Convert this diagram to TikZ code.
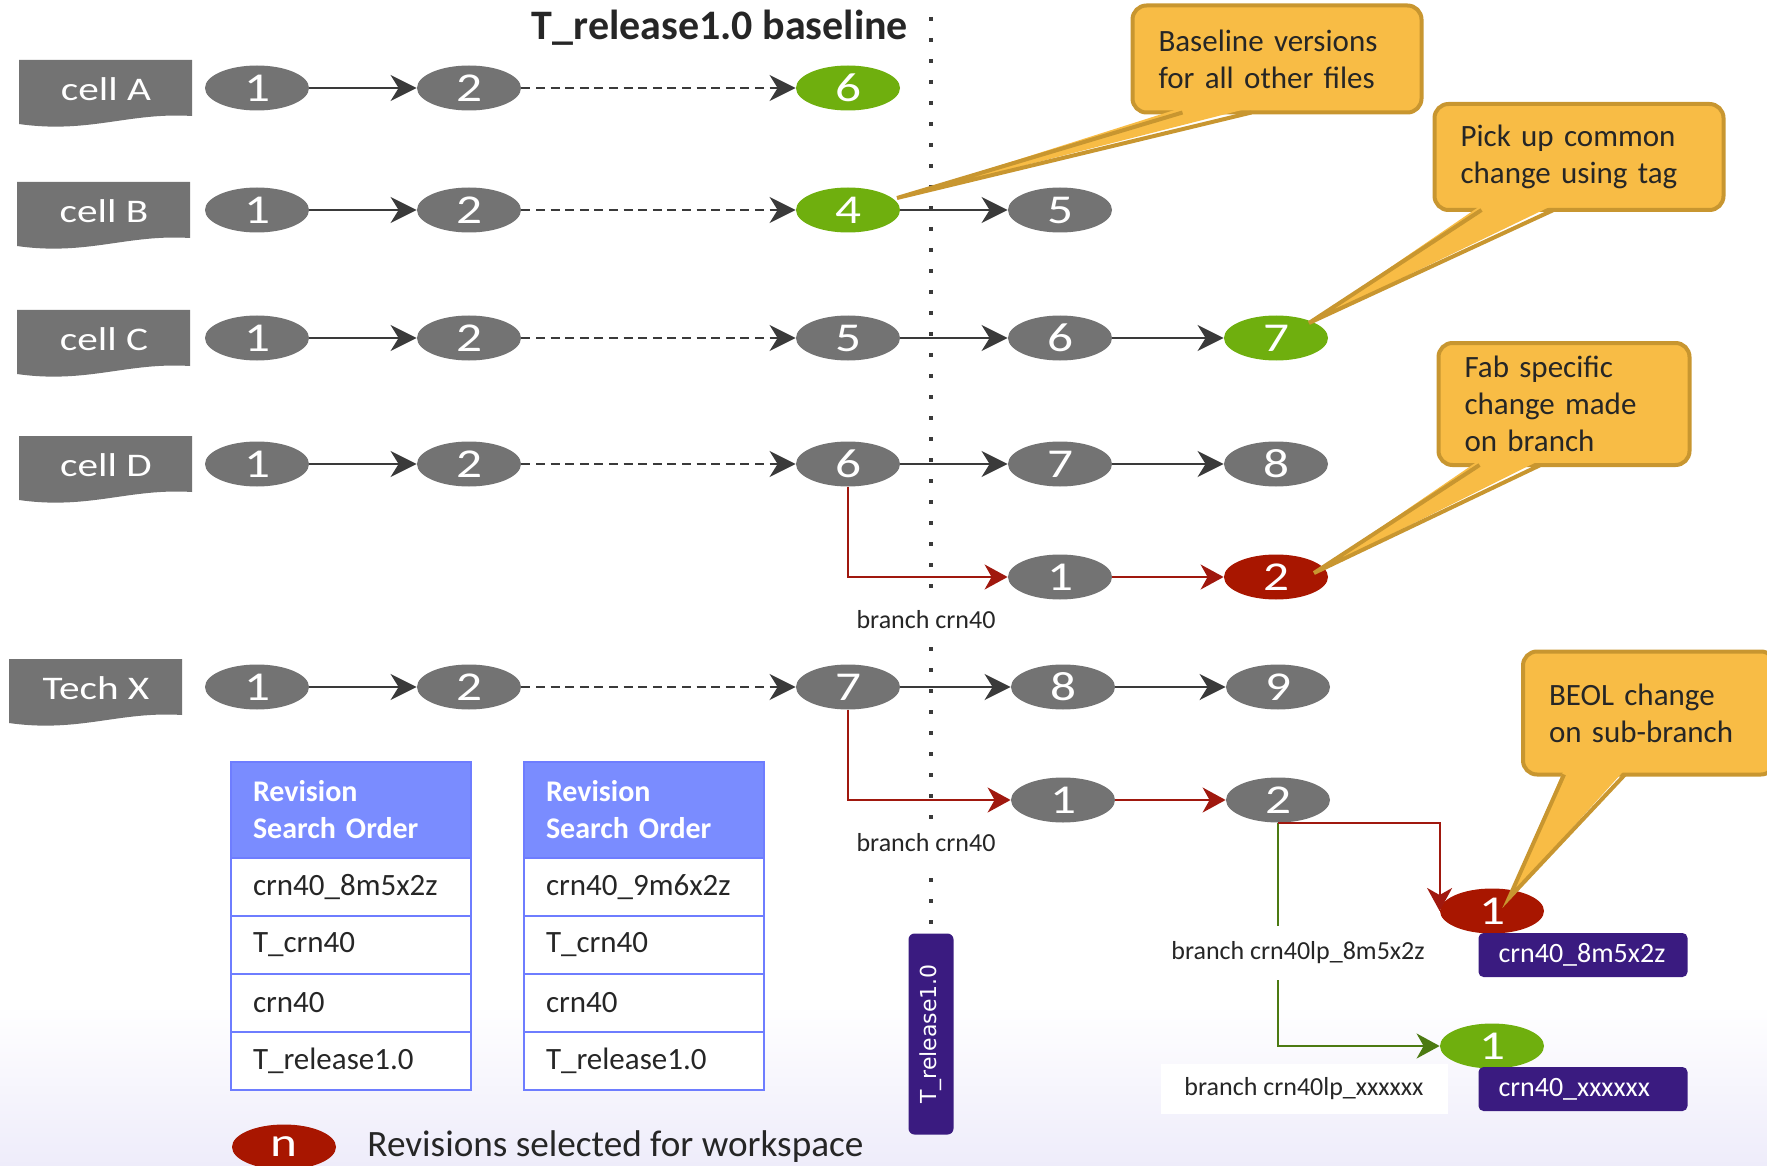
\documentclass[tikz,border=0pt]{standalone}
\usepackage{fontspec}
\setmainfont{Carlito}
\newfontfamily\wideface{Carlito}[FakeStretch=1.25]
\newfontfamily\tagface{DejaVu Sans}
\usepackage{tikz}
\usetikzlibrary{calc,positioning,shapes.geometric,arrows.meta}

\definecolor{revgray}{RGB}{115,115,115}
\definecolor{revgreen}{RGB}{111,175,14}
\definecolor{revred}{RGB}{168,22,0}
\definecolor{flowgray}{RGB}{58,58,58}
\definecolor{branchred}{RGB}{160,24,14}
\definecolor{branchgreen}{RGB}{76,122,18}
\definecolor{notefill}{RGB}{248,188,69}
\definecolor{noteedge}{RGB}{200,150,48}
\definecolor{headblue}{RGB}{122,140,255}
\definecolor{edgeblue}{RGB}{110,125,255}
\definecolor{tagpurple}{RGB}{58,27,128}
\definecolor{textdark}{RGB}{38,38,38}
\definecolor{bgfade}{RGB}{238,236,250}

\tikzset{
  rev/.style={ellipse, fill=revgray, text=white, minimum width=52pt,
    minimum height=22.5pt, inner sep=0pt, font=\wideface\fontsize{20.5}{20.5}\selectfont},
  rev green/.style={fill=revgreen},
  rev red/.style={fill=revred},
  flow/.style={draw=flowgray, line width=1.3pt,
    -{Stealth[length=13pt, width=13pt, inset=4pt]}},
  flow dash/.style={dash pattern=on 4.5pt off 2.8pt},
  branch/.style={draw=branchred, line width=1pt,
    -{Stealth[length=11.5pt, width=12.5pt, inset=3.5pt]}},
  sub branch/.style={draw=branchgreen, line width=1pt,
    -{Stealth[length=11.5pt, width=12.5pt, inset=3.5pt]}},
  cell tag/.style={fill=revgray},
  tag text/.style={text=white, inner sep=0pt, font=\wideface\fontsize{16.5}{16.5}\selectfont},
  baseline mark/.style={draw=flowgray, line width=2.2pt, dash pattern=on 2.2pt off 8.3pt},
  title/.style={text=textdark, inner sep=0pt, font=\bfseries\fontsize{21}{21}\selectfont},
  branch label/.style={fill=white, text=textdark, inner xsep=2pt, inner ysep=7pt,
    font=\fontsize{13}{13}\selectfont},
  note/.style={draw=noteedge, fill=notefill, line width=2pt, rounded corners=7pt,
    text=textdark, align=left, inner xsep=13pt, inner ysep=0pt,
    font=\fontsize{15.5}{18.5}\selectfont},
  note edge/.style={draw=noteedge, line width=2pt, line join=miter},
  so head/.style={anchor=north west, fill=headblue, draw=edgeblue, line width=1pt,
    text=white, align=left, text width=98pt, inner xsep=11pt, minimum height=48pt,
    outer sep=0pt, font=\bfseries\fontsize{15}{18.5}\selectfont},
  so row/.style={fill=white, draw=edgeblue, line width=1pt, text=textdark, align=left,
    text width=98pt, inner xsep=11pt, minimum height=29pt, outer sep=0pt,
    font=\fontsize{15.5}{18}\selectfont},
  pkg tag/.style={fill=tagpurple, text=white, rounded corners=2.5pt, align=left,
    text width=84.5pt, inner xsep=10pt, minimum height=22pt,
    font=\fontsize{14}{14}\selectfont},
  release tag/.style={fill=tagpurple, text=white, rounded corners=3pt,
    minimum width=100.5pt, minimum height=22.5pt, inner sep=0pt,
    font=\tagface\fontsize{11}{11}\selectfont},
  legend text/.style={text=textdark, font=\fontsize{18.6}{18.6}\selectfont}
}

% one cell: tag, revisions 1 and 2, baseline revision
\def\CellRow#1#2#3#4#5#6{%
  \fill[cell tag] (#3,#2-28) -- (#3+173,#2-28) -- (#3+173,#2+28)
    .. controls (#3+110,#2+24) and (#3+70,#2+46) .. (#3,#2+36) -- cycle;
  \node[tag text] (tag#1) at (#3+87,#2+1) {#4};
  \node[rev] (#1a) at (257,#2) {1};
  \node[rev] (#1b) at (469,#2) {2};
  \node[rev,#6] (#1c) at (848,#2) {#5};
  \draw[flow] (#1a) -- (#1b);
  \draw[flow,flow dash] (#1b) -- (#1c);
}
\def\NoteTip#1#2#3#4{%
  \fill[notefill] ($(#1.south west)+(#2,-7)$) -- (#4) -- ($(#1.south west)+(#3,-7)$) -- cycle;
  \draw[note edge] ($(#1.south west)+(#2,-2)$) -- (#4) -- ($(#1.south west)+(#3,-2)$);
}
\def\SearchOrder#1#2#3{%
  \node[so head] (#1h) at (#2,762) {Revision\\Search Order};
  \node[so row, below=0pt of #1h] (#1r1) {#3};
  \node[so row, below=0pt of #1r1] (#1r2) {T\_crn40};
  \node[so row, below=0pt of #1r2] (#1r3) {crn40};
  \node[so row, below=0pt of #1r3] (#1r4) {T\_release1.0};
}

\begin{document}
\begin{tikzpicture}[x=0.5pt,y=-0.5pt]
\useasboundingbox (0,0) rectangle (1767,1166);
\fill[top color=white, bottom color=bgfade] (0,1005) rectangle (1767,1166);

% release line
\coordinate (markTop) at (931,17);
\coordinate (markEnd) at (931,926);
\draw[baseline mark] (markTop) -- (markEnd);
\node[title] (baseTitle) at (720,28) {T\_release1.0 baseline};
\node[release tag, rotate=90] (relTag) at (931,1034) {T\_release1.0};

\CellRow{A}{88}{19}{cell A}{6}{rev green}
\CellRow{B}{210}{17}{cell B}{4}{rev green}
\CellRow{C}{338}{17}{cell C}{5}{}
\CellRow{D}{464}{19}{cell D}{6}{}
\CellRow{X}{687}{9}{Tech X}{7}{}

\node[rev] (Bd) at (1060,210) {5};
\node[rev] (Cd) at (1060,338) {6};
\node[rev,rev green] (Ce) at (1276,338) {7};
\node[rev] (Dd) at (1060,464) {7};
\node[rev] (De) at (1276,464) {8};
\node[rev] (Df) at (1060,577) {1};
\node[rev,rev red] (Dg) at (1276,577) {2};
\node[rev] (Xd) at (1063,687) {8};
\node[rev] (Xe) at (1278,687) {9};
\node[rev] (Xf) at (1063,800) {1};
\node[rev] (Xg) at (1278,800) {2};
\node[rev,rev red] (Xh) at (1492,911) {1};
\node[rev,rev green] (Xi) at (1492,1046) {1};

\draw[flow] (Bc) -- (Bd);
\draw[flow] (Cc) -- (Cd);
\draw[flow] (Cd) -- (Ce);
\draw[flow] (Dc) -- (Dd);
\draw[flow] (Dd) -- (De);
\draw[flow] (Xc) -- (Xd);
\draw[flow] (Xd) -- (Xe);
\draw[branch] (Dc.south) |- (Df);
\draw[branch] (Df) -- (Dg);
\draw[branch] (Xc.south) |- (Xf);
\draw[branch] (Xf) -- (Xg);
\draw[sub branch] (Xg.south) |- (Xi);
\draw[branch] (Xg.south) -| (Xh.west);

\node[branch label] (brD) at (926,620) {branch crn40};
\node[branch label] (brX) at (926,843) {branch crn40};
\node[branch label, inner ysep=8pt] (brSubA) at (1298,953) {branch crn40lp\_8m5x2z};
\node[branch label, minimum width=143.5pt, minimum height=24pt] (brSubB) at (1304,1089) {branch crn40lp\_xxxxxx};
\node[pkg tag] (pkgA) at (1583,955) {crn40\_8m5x2z};
\node[pkg tag] (pkgB) at (1583,1089) {crn40\_xxxxxx};

\SearchOrder{soA}{231}{crn40\_8m5x2z}
\SearchOrder{soB}{524}{crn40\_9m6x2z}

% callouts
\node[note, minimum width=144.5pt, minimum height=53.5pt, text width=118.5pt] (noteBase) at (1277,59) {Baseline versions\\for all other files};
\node[note, minimum width=144.5pt, minimum height=53pt, text width=118.5pt] (noteTag) at (1579,157) {Pick up common\\change using tag};
\node[note, minimum width=125.5pt, minimum height=61pt, text width=99.5pt] (noteFab) at (1564,404) {Fab specific\\change made\\on branch};
\node[note, minimum width=126pt, minimum height=61.5pt, text width=100pt] (noteBeol) at (1649,713) {BEOL change\\on sub-branch};
\NoteTip{noteBase}{52}{121}{$(Bc)+(49,-12)$}
\NoteTip{noteTag}{49}{121}{$(Ce)+(33,-15)$}
\NoteTip{noteFab}{43}{104}{$(Dg)+(38,-4)$}
\NoteTip{noteBeol}{43}{104}{$(Xh)+(17,-13)$}

\node[rev,rev red] (legendRev) at (284,1147) {n};
\node[legend text, right=12pt of legendRev] (legendText) {Revisions selected for workspace};
\end{tikzpicture}
\end{document}
